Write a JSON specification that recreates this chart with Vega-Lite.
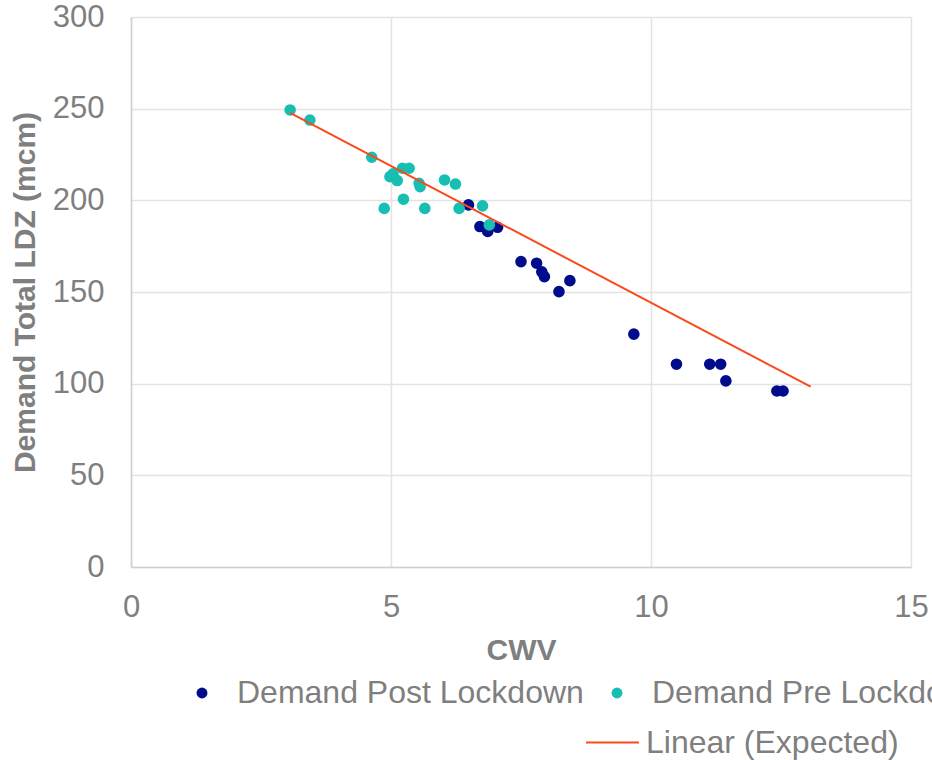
{
  "$schema": "https://vega.github.io/schema/vega-lite/v6.json",
  "autosize": {"type": "none"},
  "width": 780,
  "height": 550,
  "padding": {"left": 131, "top": 17, "right": 21, "bottom": 193},
  "background": "white",
  "config": {
    "font": "Liberation Sans",
    "view": {"stroke": null},
    "axis": {
      "labelFont": "Liberation Sans",
      "labelFontSize": 31,
      "labelColor": "#7f7f7f",
      "titleFont": "Liberation Sans",
      "titleFontSize": 30,
      "titleFontWeight": "bold",
      "titleColor": "#7f7f7f",
      "gridColor": "#e3e3e3",
      "gridWidth": 1.5,
      "domainColor": "#d0d0d0",
      "domainWidth": 1.5,
      "ticks": false
    },
    "legend": {
      "labelFont": "Liberation Sans",
      "labelFontSize": 32,
      "labelColor": "#7f7f7f",
      "labelLimit": 0
    }
  },
  "datasets": {
    "points": [
      {"cwv": 6.49, "demand": 197.5, "series": "Demand Post Lockdown"},
      {"cwv": 6.71, "demand": 185.7, "series": "Demand Post Lockdown"},
      {"cwv": 6.86, "demand": 183.0, "series": "Demand Post Lockdown"},
      {"cwv": 7.05, "demand": 185.3, "series": "Demand Post Lockdown"},
      {"cwv": 7.50, "demand": 166.6, "series": "Demand Post Lockdown"},
      {"cwv": 7.80, "demand": 165.7, "series": "Demand Post Lockdown"},
      {"cwv": 7.90, "demand": 161.0, "series": "Demand Post Lockdown"},
      {"cwv": 7.95, "demand": 158.4, "series": "Demand Post Lockdown"},
      {"cwv": 8.23, "demand": 150.2, "series": "Demand Post Lockdown"},
      {"cwv": 8.44, "demand": 156.2, "series": "Demand Post Lockdown"},
      {"cwv": 9.67, "demand": 127.0, "series": "Demand Post Lockdown"},
      {"cwv": 10.49, "demand": 110.6, "series": "Demand Post Lockdown"},
      {"cwv": 11.13, "demand": 110.6, "series": "Demand Post Lockdown"},
      {"cwv": 11.34, "demand": 110.6, "series": "Demand Post Lockdown"},
      {"cwv": 11.44, "demand": 101.5, "series": "Demand Post Lockdown"},
      {"cwv": 12.42, "demand": 96.0, "series": "Demand Post Lockdown"},
      {"cwv": 12.54, "demand": 96.0, "series": "Demand Post Lockdown"},
      {"cwv": 3.06, "demand": 249.3, "series": "Demand Pre Lockdown"},
      {"cwv": 3.44, "demand": 243.8, "series": "Demand Pre Lockdown"},
      {"cwv": 4.63, "demand": 223.5, "series": "Demand Pre Lockdown"},
      {"cwv": 4.98, "demand": 212.9, "series": "Demand Pre Lockdown"},
      {"cwv": 5.04, "demand": 214.4, "series": "Demand Pre Lockdown"},
      {"cwv": 5.12, "demand": 210.8, "series": "Demand Pre Lockdown"},
      {"cwv": 5.22, "demand": 217.5, "series": "Demand Pre Lockdown"},
      {"cwv": 5.35, "demand": 217.5, "series": "Demand Pre Lockdown"},
      {"cwv": 5.54, "demand": 209.3, "series": "Demand Pre Lockdown"},
      {"cwv": 5.56, "demand": 207.5, "series": "Demand Pre Lockdown"},
      {"cwv": 6.03, "demand": 211.1, "series": "Demand Pre Lockdown"},
      {"cwv": 6.24, "demand": 208.9, "series": "Demand Pre Lockdown"},
      {"cwv": 4.87, "demand": 195.6, "series": "Demand Pre Lockdown"},
      {"cwv": 5.24, "demand": 200.6, "series": "Demand Pre Lockdown"},
      {"cwv": 5.65, "demand": 195.6, "series": "Demand Pre Lockdown"},
      {"cwv": 6.31, "demand": 195.6, "series": "Demand Pre Lockdown"},
      {"cwv": 6.76, "demand": 197.0, "series": "Demand Pre Lockdown"},
      {"cwv": 6.89, "demand": 186.6, "series": "Demand Pre Lockdown"}
    ],
    "fit": [
      {"cwv": 3.06, "demand": 247.7, "fit": "Linear (Expected)"},
      {"cwv": 13.07, "demand": 98.4, "fit": "Linear (Expected)"}
    ]
  },
  "layer": [
    {
      "data": {"name": "points"},
      "mark": {"type": "point", "filled": true, "opacity": 1, "size": 135, "shape": "circle"},
      "encoding": {
        "x": {
          "field": "cwv", "type": "quantitative", "title": "CWV",
          "scale": {"domain": [0, 15], "nice": false, "zero": true},
          "axis": {"values": [0, 5, 10, 15], "labelPadding": 25, "titlePadding": 13, "labelFlush": false}
        },
        "y": {
          "field": "demand", "type": "quantitative", "title": "Demand Total LDZ (mcm)",
          "scale": {"domain": [0, 300], "nice": false},
          "axis": {"values": [0, 50, 100, 150, 200, 250, 300], "labelPadding": 27, "titlePadding": 12}
        },
        "color": {
          "field": "series", "type": "nominal",
          "scale": {"domain": ["Demand Post Lockdown", "Demand Pre Lockdown"], "range": ["#000c8c", "#17bfb3"]},
          "legend": {
            "title": null, "orient": "none", "direction": "horizontal",
            "legendX": 55, "legendY": 660,
            "symbolType": "circle", "symbolSize": 120, "labelOffset": 19,
            "columnPadding": 17, "padding": 0, "symbolStrokeWidth": 0
          }
        }
      }
    },
    {
      "data": {"name": "fit"},
      "mark": {"type": "line", "strokeWidth": 2},
      "encoding": {
        "x": {"field": "cwv", "type": "quantitative"},
        "y": {"field": "demand", "type": "quantitative"},
        "stroke": {
          "field": "fit", "type": "nominal",
          "scale": {"domain": ["Linear (Expected)"], "range": ["#fa4a1c"]},
          "legend": {
            "title": null, "orient": "none",
            "legendX": 454, "legendY": 698,
            "symbolType": "stroke", "symbolSize": 2800, "symbolStrokeWidth": 2,
            "labelOffset": 6, "padding": 0
          }
        }
      }
    }
  ]
}
